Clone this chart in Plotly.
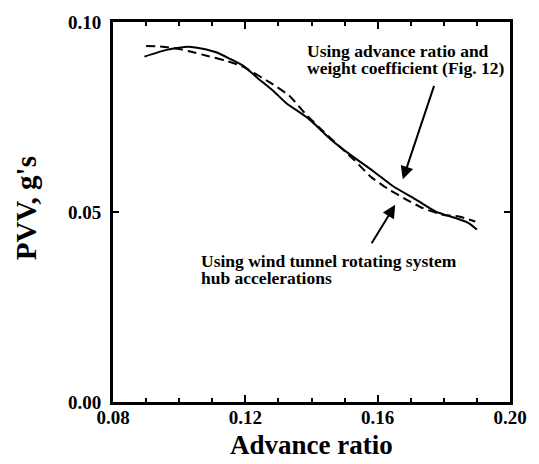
import plotly.graph_objects as go

# PVV vs advance ratio: two estimation methods
solid_x = [0.0895, 0.0959, 0.1028, 0.1067, 0.1116, 0.1156, 0.1195, 0.1235, 0.1284, 0.1323,
           0.1392, 0.1461, 0.1520, 0.1589, 0.1648, 0.1717, 0.1776, 0.1836, 0.1875, 0.1900]
solid_y = [0.0909, 0.0926, 0.0935, 0.0930, 0.0919, 0.0902, 0.0884, 0.0854, 0.0819, 0.0787,
           0.0745, 0.0689, 0.0649, 0.0606, 0.0567, 0.0532, 0.0501, 0.0484, 0.0471, 0.0454]

dashed_x = [0.0900, 0.0950, 0.1000, 0.1030, 0.1089, 0.1138, 0.1187, 0.1274, 0.1333, 0.1382,
            0.1432, 0.1530, 0.1579, 0.1629, 0.1688, 0.1737, 0.1796, 0.1846, 0.1895]
dashed_y = [0.0937, 0.0935, 0.0929, 0.0923, 0.0910, 0.0899, 0.0885, 0.0841, 0.0806, 0.0758,
            0.0715, 0.0636, 0.0593, 0.0562, 0.0532, 0.0510, 0.0493, 0.0488, 0.0475]

x_ticks = [0.08, 0.12, 0.16, 0.20]
x_labels = ["0.08", "0.12", "0.16", "0.20"]
y_ticks = [0.00, 0.05, 0.10]
y_labels = ["0.00", "0.05", "0.10"]

SERIF = "Liberation Serif"


def bold(items):
    return ["<b>%s</b>" % s for s in items]


fig = go.Figure()
fig.add_trace(go.Scatter(x=solid_x, y=solid_y, mode="lines",
                         line=dict(color="black", width=2, shape="spline", smoothing=0.5),
                         showlegend=False))
fig.add_trace(go.Scatter(x=dashed_x, y=dashed_y, mode="lines",
                         line=dict(color="black", width=2, dash="9px,5px",
                                   shape="spline", smoothing=0.5),
                         showlegend=False))

axis_common = dict(showgrid=False, zeroline=False, showline=True, linewidth=2.8,
                   linecolor="black", mirror="ticks", ticks="inside", tickwidth=2,
                   tickcolor="black",
                   tickfont=dict(family=SERIF, size=19, color="black"))

fig.update_xaxes(range=[0.08, 0.20], tickvals=x_ticks, ticktext=bold(x_labels), ticklen=7,
                 ticklabelstandoff=-4,
                 minor=dict(dtick=0.01, ticks="inside", ticklen=4, tickwidth=1.5,
                            tickcolor="black"),
                 **axis_common)
fig.update_yaxes(range=[0.0, 0.10], tickvals=y_ticks, ticktext=bold(y_labels), ticklen=6,
                 ticklabelstandoff=5, **axis_common)

label_font = dict(family=SERIF, size=17.5, color="black")
ann = [
    # axis titles
    dict(text="<b>Advance ratio</b>", x=0.5, y=-0.112, xref="paper", yref="paper",
         showarrow=False, xanchor="center", yanchor="middle",
         font=dict(family=SERIF, size=27, color="black")),
    dict(text="<b>PVV, g's</b>", x=-0.220, y=0.509, xref="paper", yref="paper",
         showarrow=False, textangle=-90, xanchor="center", yanchor="middle",
         font=dict(family=SERIF, size=29, color="black")),
    # upper label
    dict(text="<b>Using advance ratio and</b>", x=0.483, y=0.9235, xref="paper",
         yref="paper", showarrow=False, xanchor="left", yanchor="middle", font=label_font),
    dict(text="<b>weight coefficient (Fig. 12)</b>", x=0.483, y=0.880, xref="paper",
         yref="paper", showarrow=False, xanchor="left", yanchor="middle", font=label_font),
    # lower label
    dict(text="<b>Using wind tunnel rotating system</b>", x=0.216, y=0.3708, xref="paper",
         yref="paper", showarrow=False, xanchor="left", yanchor="middle", font=label_font),
    dict(text="<b>hub accelerations</b>", x=0.216, y=0.3272, xref="paper",
         yref="paper", showarrow=False, xanchor="left", yanchor="middle", font=label_font),
    # pointer arrows
    dict(x=0.1676, y=0.0586, ax=0.1772, ay=0.0836, xref="x", yref="y", axref="x",
         ayref="y", text="", showarrow=True, arrowhead=2, arrowsize=1.3, arrowwidth=2,
         arrowcolor="black"),
    dict(x=0.1653, y=0.0519, ax=0.1579, ay=0.0414, xref="x", yref="y", axref="x",
         ayref="y", text="", showarrow=True, arrowhead=2, arrowsize=1.3, arrowwidth=2,
         arrowcolor="black"),
]

fig.update_layout(width=539, height=464, margin=dict(l=113, r=20, t=19, b=62),
                  paper_bgcolor="white", plot_bgcolor="white", annotations=ann)

fig.write_html("out.html")
